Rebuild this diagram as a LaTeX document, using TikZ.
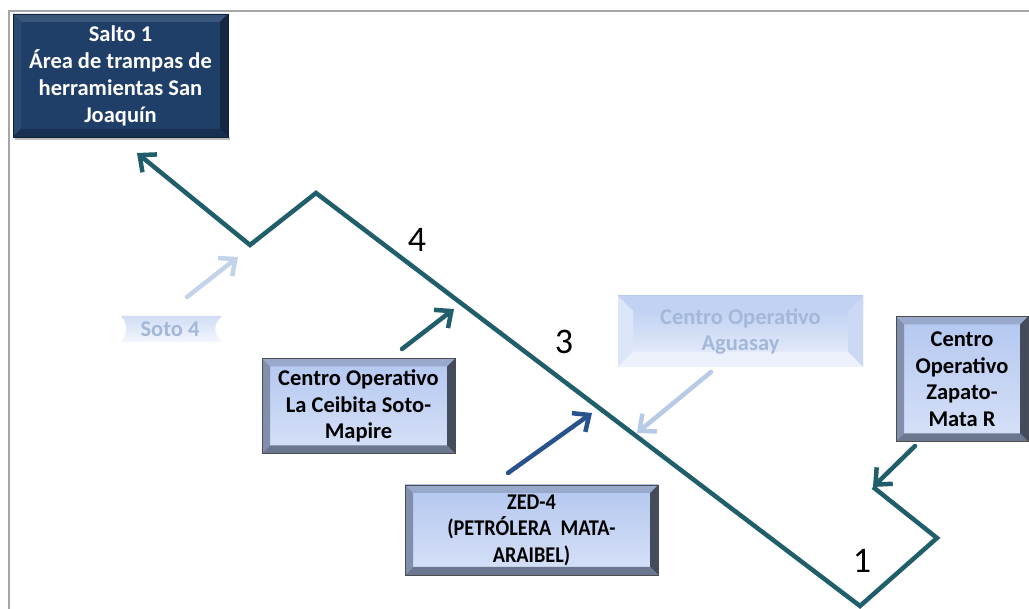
\documentclass[tikz,border=0pt]{standalone}
\usepackage{fontspec}
\setmainfont{Carlito}
\usetikzlibrary{arrows.meta,calc}

\definecolor{pathteal}{HTML}{215E6B}
\definecolor{framegray}{HTML}{A6A6A6}
\definecolor{navyarrow}{HTML}{27528C}
\definecolor{palearrow}{HTML}{C3D3EA}
\definecolor{palearrowb}{HTML}{B8CBE6}
\definecolor{paletext}{HTML}{A3B8D8}
\definecolor{saltoface}{HTML}{1F3E68}
\definecolor{facetop}{HTML}{B3C7EF}
\definecolor{facebot}{HTML}{D7E1F8}

\tikzset{
  % raised box: bevel width, then top, left, right and bottom bevel colours
  bevel/.style n args={5}{
    path picture={
      \path (path picture bounding box.north west) coordinate (pNW)
            (path picture bounding box.north east) coordinate (pNE)
            (path picture bounding box.south west) coordinate (pSW)
            (path picture bounding box.south east) coordinate (pSE);
      \path ([xshift=#1,yshift=-#1]pNW) coordinate (iNW)
            ([xshift=-#1,yshift=-#1]pNE) coordinate (iNE)
            ([xshift=#1,yshift=#1]pSW) coordinate (iSW)
            ([xshift=-#1,yshift=#1]pSE) coordinate (iSE);
      \fill[#2] (pNW) -- (pNE) -- (iNE) -- (iNW) -- cycle;
      \fill[#3] (pNW) -- (iNW) -- (iSW) -- (pSW) -- cycle;
      \fill[#4] (pNE) -- (iNE) -- (iSE) -- (pSE) -- cycle;
      \fill[#5] (pSW) -- (iSW) -- (iSE) -- (pSE) -- cycle;
    }},
  lightbox/.style={rectangle, inner sep=0pt, align=center,
    top color=facetop, bottom color=facebot,
    draw=black!70, line width=0.6pt,
    bevel={8pt}{black!15!facetop}{black!28!facetop}{black!62!facetop}{black!40!facetop},
    font=\fontsize{22.5}{26.5}\selectfont\bfseries, text=black},
  darkbox/.style={rectangle, inner sep=0pt, align=center,
    fill=saltoface, draw=black!50!saltoface, line width=0.6pt,
    bevel={8pt}{white!12!saltoface}{white!6!saltoface}{black!35!saltoface}{black!22!saltoface},
    font=\fontsize{22.5}{27}\selectfont\bfseries, text=white},
  fadedtext/.style={font=\fontsize{22.5}{26.5}\selectfont\bfseries, text=paletext, align=center},
  zigzag/.style={draw=pathteal, line width=4.5pt, line join=miter},
  feeder/.style={line width=4.5pt, line cap=round,
    -{Straight Barb[length=13pt,width=23pt,line width=4.5pt]}},
  stepnum/.style={font=\fontsize{36}{36}\selectfont, text=black},
}

\begin{document}
\begin{tikzpicture}[x=1pt,y=-1pt]
  \clip (0,0) rectangle (1029,609);
  \fill[white] (0,0) rectangle (1029,609);

  % frame lines along the top and the left
  \draw[framegray, line width=2pt] (9,612) -- (9,11) -- (1032,11);

  % soft shadow under the top box
  \fill[black!25] (15,137) rectangle (230,140);

  % boxes
  \node[darkbox, minimum width=215pt, minimum height=123pt] (salto) at (120.5,75.5)
    {Salto 1\\Área de trampas de\\herramientas San\\Joaquín};
  \node[lightbox, minimum width=193pt, minimum height=95pt] (ceibita) at (358.5,406)
    {Centro Operativo\\La Ceibita Soto-\\Mapire};
  \node[lightbox, minimum width=132pt, minimum height=125pt] (zapato) at (962,379)
    {Centro\\Operativo\\Zapato-\\Mata R};
  \node[lightbox, minimum width=253pt, minimum height=90pt] (zed) at (531.5,530)
    {\scalebox{0.9}[1]{ZED-4}\\\scalebox{0.9}[1]{(PETRÓLERA\ \ MATA-}\\\scalebox{0.9}[1]{ARAIBEL)}};

  % faded banner: Aguasay
  \node[rectangle, inner sep=0pt, minimum width=245pt, minimum height=71pt,
        top color=facetop!95, bottom color=facebot!45,
        bevel={15pt}{facetop!80}{white!55!facetop}{white!30!facetop}{facebot!45}] (aguasay)
        at (740.5,331.5) {};
  \node[fadedtext] (aguasaytext) at (aguasay.center) {Centro Operativo\\Aguasay};

  % faded ribbon: Soto 4
  \shade[top color=facetop!60, bottom color=facebot!30]
    (121,316) -- (222,316) .. controls (213,324) and (213,334) .. (222,342)
    -- (121,342) .. controls (128,334) and (128,324) .. (121,316) -- cycle;
  \node[fadedtext] (soto) at (170,329) {Soto 4};

  % the route: from 1 up through 3 and 4 to Salto 1
  \coordinate (r1) at (873,487);
  \coordinate (r2) at (937,538);
  \coordinate (r3) at (860,606);
  \coordinate (r4) at (316,193);
  \coordinate (r5) at (250,245);
  \coordinate (r6) at (137,153);
  \draw[zigzag, -{Straight Barb[length=13pt,width=23pt,line width=4.5pt]}]
    (r1) -- (r2) -- (r3) -- (r4) -- (r5) -- (r6);

  \node[stepnum] (n4) at (417,240) {4};
  \node[stepnum] (n3) at (564,342) {3};
  \node[stepnum] (n1) at (862,561) {1};

  % feeders into the route
  \coordinate (sotoA) at (187,297);   \coordinate (sotoB) at (238,257);
  \coordinate (ceibA) at (402,349);   \coordinate (ceibB) at (454,309);
  \coordinate (zedA)  at (508,473);   \coordinate (zedB)  at (592,413);
  \coordinate (aguaA) at (711,372);   \coordinate (aguaB) at (637,433);
  \coordinate (zapA)  at (915,446);
  \draw[feeder, palearrow] (sotoA) -- (sotoB);
  \draw[feeder, pathteal] (ceibA) -- (ceibB);
  \draw[feeder, navyarrow] (zedA) -- (zedB);
  \draw[feeder, palearrowb] (aguaA) -- (aguaB);
  \draw[feeder, pathteal] (zapA) -- (r1);
\end{tikzpicture}
\end{document}
